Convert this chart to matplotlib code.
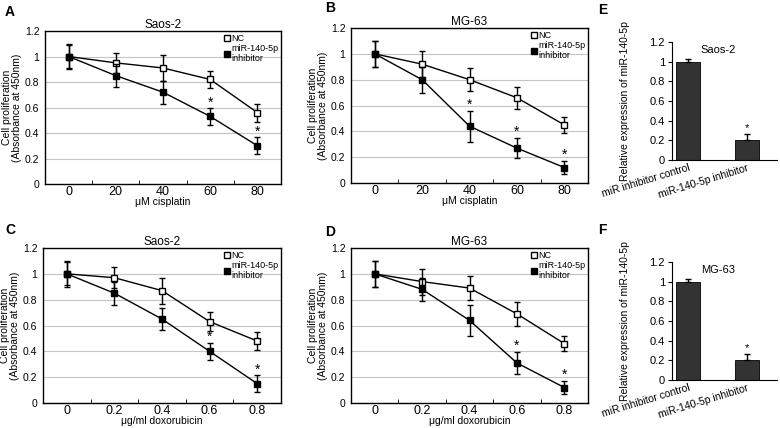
import numpy as np
import matplotlib.pyplot as plt
from matplotlib.lines import Line2D

plt.rcParams['font.family'] = ['Liberation Sans', 'DejaVu Sans']

W, H = 780, 428

# dose-response data (panels A-D)
cis_doses = ['0', '20', '40', '60', '80']
dox_doses = ['0', '0.2', '0.4', '0.6', '0.8']

a_nc = [1.0, 0.95, 0.91, 0.82, 0.56]
a_nc_err = [0.10, 0.08, 0.10, 0.07, 0.07]
a_inh = [1.0, 0.85, 0.72, 0.53, 0.30]
a_inh_err = [0.09, 0.09, 0.09, 0.065, 0.065]
a_star = [3, 4]

b_nc = [1.0, 0.92, 0.80, 0.66, 0.45]
b_nc_err = [0.10, 0.10, 0.09, 0.085, 0.06]
b_inh = [1.0, 0.80, 0.44, 0.27, 0.12]
b_inh_err = [0.10, 0.10, 0.12, 0.08, 0.05]
b_star = [2, 3, 4]

c_nc = [1.0, 0.97, 0.87, 0.63, 0.48]
c_nc_err = [0.10, 0.08, 0.10, 0.075, 0.07]
c_inh = [1.0, 0.85, 0.65, 0.40, 0.15]
c_inh_err = [0.09, 0.09, 0.085, 0.065, 0.065]
c_star = [3, 4]

d_nc = [1.0, 0.94, 0.89, 0.69, 0.46]
d_nc_err = [0.10, 0.10, 0.09, 0.09, 0.06]
d_inh = [1.0, 0.88, 0.64, 0.31, 0.12]
d_inh_err = [0.10, 0.09, 0.12, 0.085, 0.05]
d_star = [3, 4]

# qPCR bars (panels E, F)
bar_labels = ['miR inhibitor control', 'miR-140-5p inhibitor']
e_vals = [1.0, 0.2]
e_err = [0.03, 0.06]
f_vals = [1.0, 0.2]
f_err = [0.03, 0.06]

fig = plt.figure(figsize=(W / 100, H / 100), dpi=100)


def px_axes(left, top, right, bottom):
    return fig.add_axes([left / W, 1 - bottom / H, (right - left) / W, (bottom - top) / H])


def line_panel(ax, title, xlabel, ticks, nc, nc_err, inh, inh_err, stars):
    x = np.arange(len(ticks))
    ax.set_xlim(-0.5, len(ticks) - 0.5)
    ax.set_ylim(0, 1.2)
    ax.set_yticks(np.arange(0, 1.21, 0.2))
    ax.set_yticklabels(['0', '0.2', '0.4', '0.6', '0.8', '1', '1.2'])
    ax.yaxis.grid(True, color='#c4c4c4', linewidth=0.8)
    ax.set_axisbelow(True)
    ax.set_xticks(x)
    ax.set_xticklabels(ticks)
    ax.set_xticks(np.arange(-0.5, len(ticks), 1.0), minor=True)
    ax.tick_params(axis='x', which='major', length=0, labelsize=9, pad=1.5)
    ax.tick_params(axis='x', which='minor', direction='in', length=3)
    ax.tick_params(axis='y', length=0, labelsize=7.5, pad=4)
    for s in ax.spines.values():
        s.set_linewidth(1)
        s.set_color('black')
    ax.errorbar(x, nc, yerr=nc_err, color='black', lw=1, capsize=2.5, elinewidth=1,
                marker='s', ms=4.5, mfc='white', mec='black', zorder=3)
    ax.errorbar(x, inh, yerr=inh_err, color='black', lw=1, capsize=2.5, elinewidth=1,
                marker='s', ms=4.5, mfc='black', mec='black', zorder=4)
    for i in stars:
        ax.text(x[i], inh[i] + inh_err[i] + 0.045, '*', ha='center', va='center', fontsize=10)
    ax.set_title(title, fontsize=8.5, pad=2)
    ax.set_xlabel(xlabel, fontsize=7.5, labelpad=-1)
    ax.set_ylabel('Cell proliferation\n(Absorbance at 450nm)', fontsize=7.5, labelpad=2, linespacing=1.0)
    handles = [Line2D([], [], ls='none', marker='s', ms=5, mfc='white', mec='black'),
               Line2D([], [], ls='none', marker='s', ms=5, mfc='black', mec='black')]
    ax.legend(handles, ['NC', 'miR-140-5p\ninhibitor'], loc='upper right', frameon=False,
              fontsize=6.5, handlelength=0.8, handletextpad=0.1, borderaxespad=0.1,
              labelspacing=0.1, borderpad=0.2)


def bar_panel(ax, title, vals, err):
    x = np.arange(len(vals))
    ax.bar(x, vals, width=0.42, color='#333333', edgecolor='black', linewidth=0.6)
    ax.errorbar(x, vals, yerr=[np.zeros(len(err)), err], fmt='none', ecolor='black',
                elinewidth=1, capsize=2.5)
    ax.text(x[1], vals[1] + err[1] + 0.01, '*', ha='center', va='bottom', fontsize=8)
    ax.set_xlim(-0.27, 1.51)
    ax.set_ylim(0, 1.2)
    ax.set_yticks(np.arange(0, 1.21, 0.2))
    ax.set_yticklabels(['0', '0.2', '0.4', '0.6', '0.8', '1', '1.2'])
    ax.set_xticks(x)
    ax.set_xticklabels(bar_labels, rotation=17, ha='right', rotation_mode='anchor', fontsize=7.5)
    ax.tick_params(axis='x', length=0, pad=2)
    ax.tick_params(axis='y', length=3, labelsize=8, pad=2)
    ax.spines['top'].set_visible(False)
    ax.spines['right'].set_visible(False)
    ax.text(0.44, 0.93, title, transform=ax.transAxes, ha='center', va='center', fontsize=8)
    ax.set_ylabel('Relative expression of miR-140-5p', fontsize=7.5, labelpad=3)
    ax.yaxis.set_label_coords(-0.4, 0.5)


axA = px_axes(45, 31, 281, 184)
line_panel(axA, 'Saos-2', 'μM cisplatin', cis_doses, a_nc, a_nc_err, a_inh, a_inh_err, a_star)
axB = px_axes(351, 28, 588, 183)
line_panel(axB, 'MG-63', 'μM cisplatin', cis_doses, b_nc, b_nc_err, b_inh, b_inh_err, b_star)
axC = px_axes(43, 248, 281, 403)
line_panel(axC, 'Saos-2', 'μg/ml doxorubicin', dox_doses, c_nc, c_nc_err, c_inh, c_inh_err, c_star)
axD = px_axes(351, 248, 588, 403)
line_panel(axD, 'MG-63', 'μg/ml doxorubicin', dox_doses, d_nc, d_nc_err, d_inh, d_inh_err, d_star)

axE = px_axes(672, 42, 777, 160)
bar_panel(axE, 'Saos-2', e_vals, e_err)
axF = px_axes(672, 262, 777, 380)
bar_panel(axF, 'MG-63', f_vals, f_err)

for lab, (px, py) in {'A': (5, 12), 'B': (325, 8), 'C': (5, 230), 'D': (325, 232),
                      'E': (598, 10), 'F': (598, 230)}.items():
    fig.text(px / W, 1 - py / H, lab, fontsize=10, fontweight='bold', ha='left', va='center')

fig.savefig('out.png', dpi=100)
